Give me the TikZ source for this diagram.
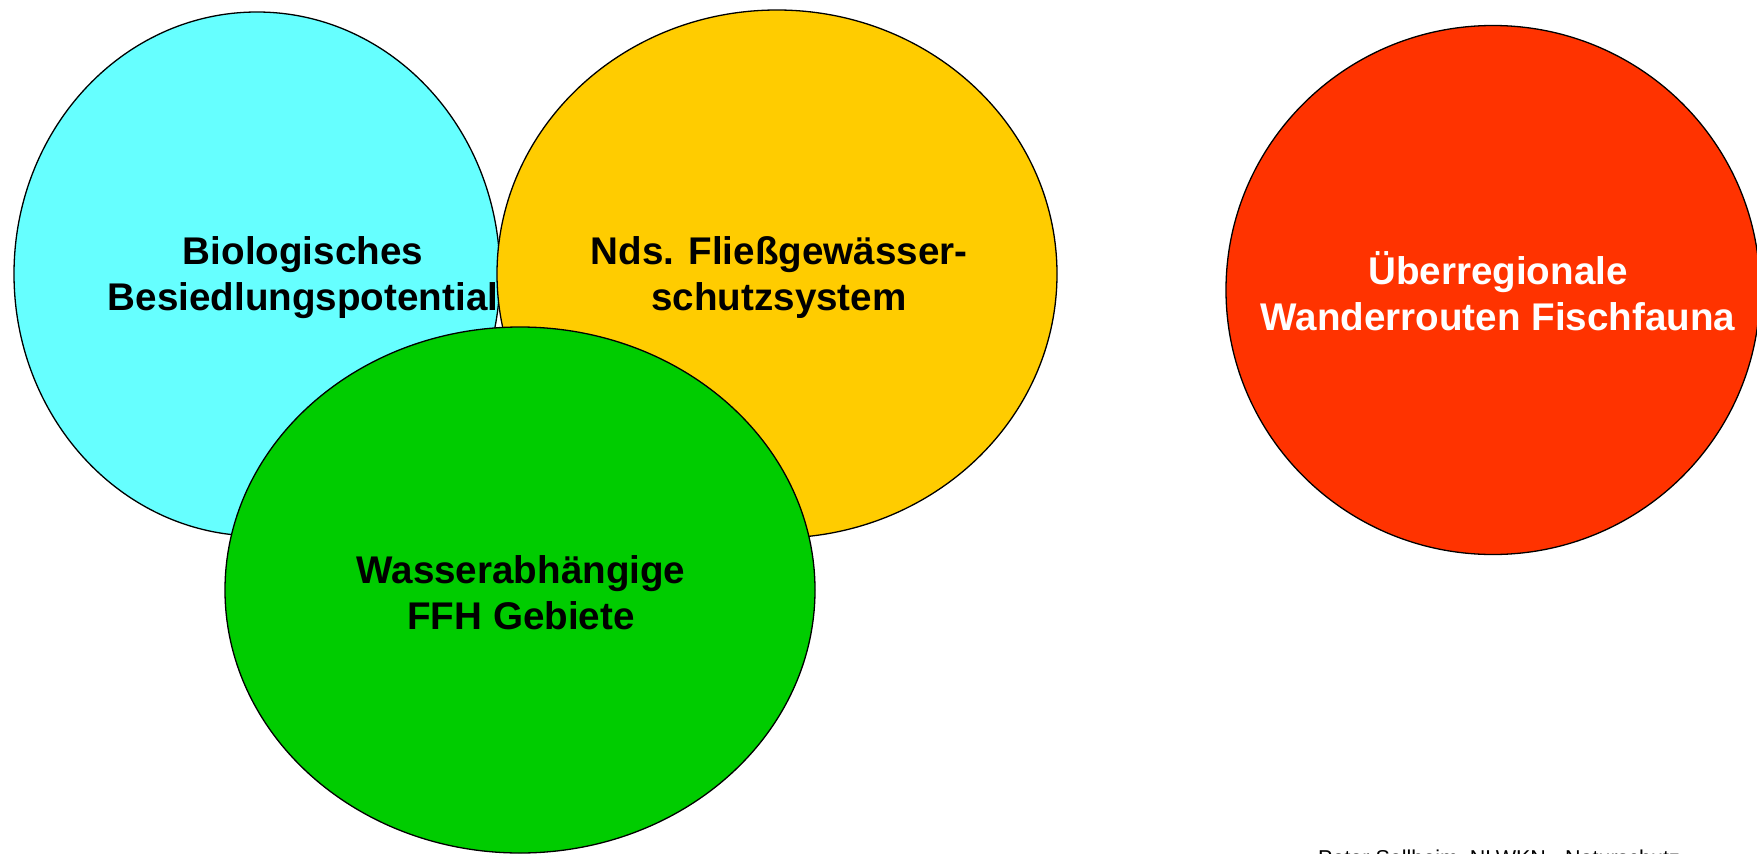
\documentclass[tikz,border=0pt]{standalone}
\usepackage{fontspec}
\setmainfont{Liberation Sans}
\usetikzlibrary{shapes.geometric}
\definecolor{bluecyan}{HTML}{66FFFF}
\definecolor{goldyellow}{HTML}{FFCC00}
\definecolor{leafgreen}{HTML}{00CC00}
\definecolor{signalred}{HTML}{FF3300}
\begin{document}
\begin{tikzpicture}[x=1pt,y=-1pt,
    blob/.style={ellipse,draw=black,line width=1.3pt,inner sep=0pt},
    blobtext/.style={align=center,font=\fontsize{38.6}{46}\selectfont\bfseries}]
            \useasboundingbox (0,0) rectangle (1757,854);
            \node[blob,fill=bluecyan,minimum width=486pt,minimum height=524pt] (bio) at (257,274) {};
            \node[blobtext] (biotext) at (303,278) {Biologisches\\Besiedlungspotential};
            \node[blob,fill=goldyellow,minimum width=560pt,minimum height=528pt] (nds) at (777,274) {};
            \node[blobtext] (ndstext) at (779,278) {Nds. Fließgewässer-\\schutzsystem};
            \node[blob,fill=leafgreen,minimum width=590pt,minimum height=526pt] (ffh) at (520,590) {};
            \node[blobtext] (ffhtext) at (521,593) {Wasserabhängige\\FFH Gebiete};
            \node[blob,fill=signalred,minimum width=534pt,minimum height=529pt] (wander) at (1493,290) {};
            \node[blobtext,text=white] (wandertext) at (1498,291) {Überregionale\\Wanderrouten Fischfauna};
            \node[anchor=base west,inner sep=0pt,font=\fontsize{21.5}{26}\selectfont] (credit) at (1318,865) {Peter Sellheim, NLWKN - Naturschutz};
        \end{tikzpicture}
\end{document}
